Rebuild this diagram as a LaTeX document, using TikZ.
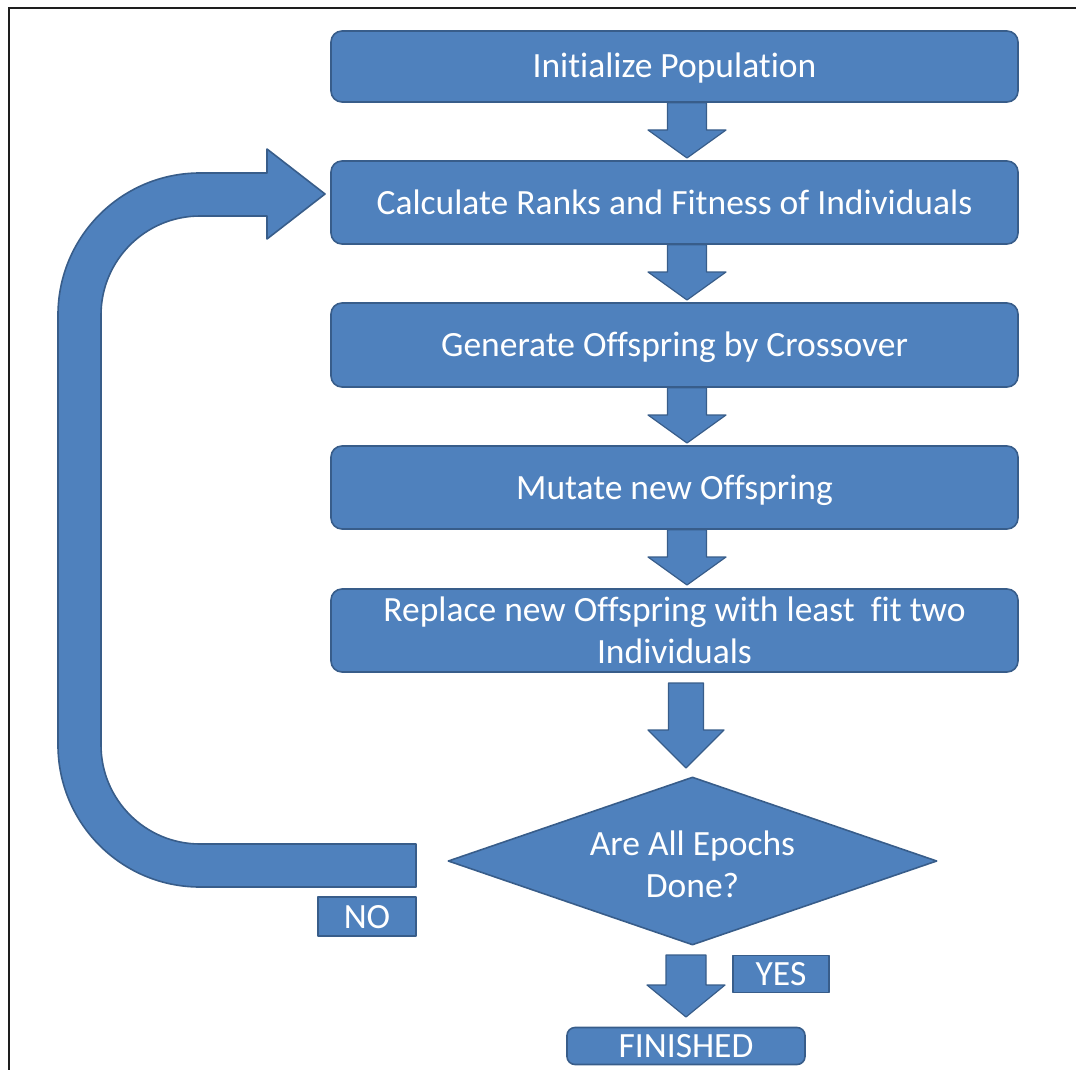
\documentclass[tikz,border=0pt]{standalone}
\usepackage{fontspec}
\setmainfont[Ligatures=NoCommon]{Carlito}
\usetikzlibrary{calc,shapes.geometric}

\definecolor{boxfill}{HTML}{4F81BD}
\definecolor{boxedge}{HTML}{385D8A}
\definecolor{framecol}{HTML}{1E1E1E}

\tikzset{
  shape fill/.style={fill=boxfill, draw=boxedge, line width=1.6pt, line join=round},
  labeltext/.style={text=white, font=\fontsize{35.5}{42}\selectfont, align=center, inner sep=0pt},
  oneline/.style={text height=30pt, text depth=7pt},
  stepbox/.style={shape fill, labeltext, rounded corners=11pt, minimum width=687pt},
  tagbox/.style={shape fill, labeltext, oneline},
  blockarrow/.style={shape fill, line width=1.2pt},
}

% downward block arrow: start, tip, head length, half shaft width, half head width
\newcommand\blockarrow[5]{%
  \draw[blockarrow] let \p1=(#1), \p2=(#2) in
    (\x2-#4,\y1) -- (\x2+#4,\y1) -- (\x2+#4,\y2+#3) -- (\x2+#5,\y2+#3)
    -- (\x2,\y2) -- (\x2-#5,\y2+#3) -- (\x2-#4,\y2+#3) -- cycle;}

\begin{document}
\begin{tikzpicture}[x=1pt, y=-1pt]
  \useasboundingbox (0,0) rectangle (1076,1070);

  % frame
  \draw[framecol, line width=2pt] (9,1070) -- (9,8) -- (1076,8);

  % process steps
  \node[stepbox, oneline, minimum height=71pt] (b1) at (674.5,66.5) {Initialize Population};
  \node[stepbox, oneline, minimum height=83pt] (b2) at (674.5,202.5) {Calculate Ranks and Fitness of Individuals};
  \node[stepbox, oneline, minimum height=84pt] (b3) at (674.5,345) {Generate Offspring by Crossover};
  \node[stepbox, oneline, minimum height=83pt] (b4) at (674.5,487.5) {Mutate new Offspring};
  \node[stepbox, minimum height=83pt] (b5) at (674.5,630.5) {Replace new Offspring with least~~fit two\\Individuals};

  % decision
  \node[shape fill, labeltext, diamond, aspect=2.9, minimum width=489pt, minimum height=168pt] (d) at (692.5,861) {};
  \node[labeltext] (dq) at (692.5,864) {Are All Epochs\\Done?};

  % labels and end
  \node[tagbox, minimum width=98pt, minimum height=39pt] (no) at (367,916.5) {NO};
  \node[tagbox, minimum width=96pt, minimum height=37pt] (yes) at (781,974) {YES};
  \node[stepbox, oneline, rounded corners=8pt, minimum width=238pt, minimum height=37pt] (fin) at (686,1046) {FINISHED};

  % arrow tips and starts
  \coordinate (t1) at (687,158);
  \coordinate (t2) at (687,300);
  \coordinate (t3) at (687,443);
  \coordinate (t4) at (687,585);
  \coordinate (s5) at (686,683);
  \coordinate (t5) at (686,768);
  \coordinate (s6) at (686,955);
  \coordinate (t6) at (686,1017);

  \blockarrow{b1.south -| t1}{t1}{28pt}{19.5pt}{39pt}
  \blockarrow{b2.south -| t2}{t2}{28pt}{19.5pt}{39pt}
  \blockarrow{b3.south -| t3}{t3}{28pt}{19.5pt}{39pt}
  \blockarrow{b4.south -| t4}{t4}{28pt}{19.5pt}{39pt}
  \blockarrow{s5}{t5}{38pt}{17.5pt}{38pt}
  \blockarrow{s6}{t6}{32pt}{20pt}{39pt}

  % loop back from the decision to the fitness step
  \draw[shape fill] (416,844) -- (200,844)
    arc[start angle=90, end angle=180, radius=99] -- (101,315)
    arc[start angle=180, end angle=270, radius=99] -- (267,216)
    -- (267,239) -- (325,194) -- (267,149) -- (267,173) -- (200,173)
    arc[start angle=270, end angle=180, radius=142] -- (58,745)
    arc[start angle=180, end angle=90, radius=142] -- (416,887) -- cycle;
\end{tikzpicture}
\end{document}
